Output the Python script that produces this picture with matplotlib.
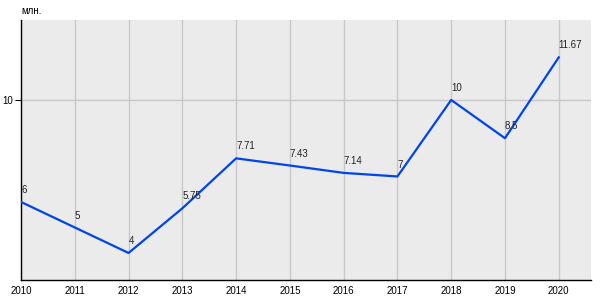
import matplotlib
matplotlib.use("Agg")
import matplotlib.pyplot as plt

years = [2010, 2011, 2012, 2013, 2014, 2015, 2016, 2017, 2018, 2019, 2020]
values = [6, 5, 4, 5.75, 7.71, 7.43, 7.14, 7, 10, 8.5, 11.67]
labels = ["6", "5", "4", "5.75", "7.71", "7.43", "7.14", "7", "10", "8.5", "11.67"]
y_ticks = [10]
unit = "млн."

plt.rcParams['font.family'] = ['Liberation Sans', 'DejaVu Sans']

fig = plt.figure(figsize=(6, 3), dpi=100)
ax = fig.add_axes([0.035, 0.0667, 0.95, 0.867])
ax.set_facecolor('#ebebeb')

ax.plot(years, values, color='#0044ee', lw=1.6, zorder=3)
for x, y, t in zip(years, values, labels):
    ax.annotate(t, (x, y), xytext=(0, 5), textcoords='offset points',
                ha='left', va='bottom', fontsize=7, color='#222222', zorder=4)

ax.set_xlim(2010, 2020.6)
ax.set_ylim(2.94, 13.14)
ax.set_xticks(years)
ax.set_xticklabels([str(y) for y in years], fontsize=7)
ax.set_yticks(y_ticks)
ax.set_yticklabels([str(v) for v in y_ticks], fontsize=7)
ax.tick_params(axis='x', length=0, pad=4)
ax.tick_params(axis='y', length=4, width=0.8, pad=2)
ax.grid(True, color='#c8c8c8', lw=1, zorder=1)
ax.set_axisbelow(True)
for s in ['top', 'right']:
    ax.spines[s].set_visible(False)
for s in ['left', 'bottom']:
    ax.spines[s].set_color('black')
    ax.spines[s].set_linewidth(1)

fig.text(0.035, 0.948, unit, fontsize=7, ha='left', va='bottom')

fig.savefig('out.png', dpi=100)
